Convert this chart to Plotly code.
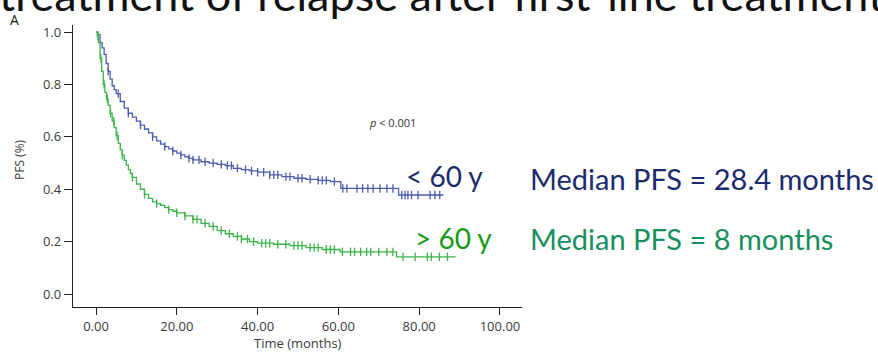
import bisect
import plotly.graph_objects as go

# Kaplan-Meier estimates of progression-free survival by age group
young_t = [0, 0.5, 1, 1.5, 2, 2.5, 3, 3.5, 4, 4.5, 5, 6, 7, 8, 9, 10, 11, 12, 13,
           14, 15, 16, 17, 18, 19, 20, 21, 22, 23, 24, 26, 28, 30, 32, 34, 36, 38,
           40, 43, 46, 49, 52, 55, 58, 60.6, 74.9]
young_s = [1.0, 0.99, 0.96, 0.94, 0.915, 0.88, 0.85, 0.82, 0.795, 0.78, 0.765,
           0.735, 0.71, 0.69, 0.675, 0.66, 0.645, 0.63, 0.615, 0.60, 0.585, 0.572,
           0.563, 0.554, 0.546, 0.538, 0.531, 0.524, 0.518, 0.512, 0.505, 0.50,
           0.495, 0.49, 0.48, 0.475, 0.47, 0.465, 0.455, 0.448, 0.442, 0.438, 0.434,
           0.429, 0.403, 0.378]
young_end = 86.0
young_cens = [3, 5.5, 8, 11, 14, 17, 19, 21, 23, 24, 25.5, 27, 29, 31, 32.5, 33.5,
              35, 37, 38.5, 40, 41.5, 43, 44, 45, 47, 48, 50, 51, 53, 55, 56, 57,
              59, 61.1, 62.1, 64.6, 66, 67.3, 68.6, 70.3, 72, 73.5, 75.7, 76.5,
              77.2, 78.1, 79.7, 82.7, 83.9, 85.1]

old_t = [0, 0.3, 0.6, 1, 1.4, 1.8, 2.2, 2.6, 3, 3.5, 4, 4.5, 5, 5.5, 6, 6.5, 7, 7.5,
         8, 8.5, 9, 10, 11, 12, 13, 14, 15, 16, 17, 18, 19, 20, 22, 24, 26, 28, 30,
         32, 34, 36, 38, 40, 44, 48, 52, 56, 60.4, 74.4]
old_s = [1.0, 0.985, 0.96, 0.90, 0.85, 0.80, 0.77, 0.745, 0.72, 0.69, 0.66, 0.635,
         0.605, 0.575, 0.55, 0.53, 0.51, 0.492, 0.475, 0.46, 0.445, 0.42, 0.40,
         0.38, 0.365, 0.352, 0.345, 0.338, 0.33, 0.322, 0.316, 0.31, 0.298, 0.285,
         0.27, 0.258, 0.242, 0.23, 0.22, 0.21, 0.20, 0.194, 0.19, 0.185, 0.177,
         0.17, 0.161, 0.142]
old_end = 89.0
old_cens = [0.5, 1.2, 2, 2.8, 3.6, 4.4, 5.2, 6.5, 9, 12, 15, 18, 20, 22, 24, 25,
            27, 29, 31, 33, 35, 36, 37.5, 39, 41, 42, 43, 45, 47, 49, 50, 51, 53,
            54, 55, 57, 58, 59, 61, 63, 64, 65.5, 67, 68, 70, 72, 73.5, 76, 79,
            82, 83, 85, 87]

x_ticks = [0, 20, 40, 60, 80, 100]
y_ticks = [0.0, 0.2, 0.4, 0.6, 0.8, 1.0]

BLUE = "#4c5cae"
GREEN = "#3cb44b"
AXIS_TEXT = "#3a3a3a"


def surv_at(times, survs, t):
    i = bisect.bisect_right(times, t) - 1
    return survs[max(i, 0)]


def km_traces(times, survs, end, cens, color):
    xs = list(times) + [end]
    ys = list(survs) + [survs[-1]]
    step = go.Scatter(x=xs, y=ys, mode="lines", line=dict(color=color, width=1.3, shape="hv"),
                      hoverinfo="skip", showlegend=False)
    marks = go.Scatter(x=cens, y=[surv_at(times, survs, c) for c in cens], mode="markers",
                       marker=dict(symbol="line-ns", size=6, line=dict(color=color, width=1.3)),
                       hoverinfo="skip", showlegend=False)
    return [step, marks]


fig = go.Figure()
for tr in km_traces(young_t, young_s, young_end, young_cens, BLUE):
    fig.add_trace(tr)
for tr in km_traces(old_t, old_s, old_end, old_cens, GREEN):
    fig.add_trace(tr)

# plot area in pixels: left 73, right 522, top 25, bottom 307
L, R, T, B = 73, 522, 25, 307


def px(x):
    return (x - L) / (R - L)


def py(y):
    return (B - y) / (B - T)


annotations = [
    dict(text="treatment of relapse after first-line treatment", x=px(-3), y=py(23),
         xanchor="left", yanchor="bottom", font=dict(family="Lato", size=45, color="#111111")),
    dict(text="A", x=px(15), y=py(19), xanchor="center", yanchor="middle",
         font=dict(family="Open Sans", size=14, color="#222222")),
    dict(text="<i>p</i> < 0.001", x=px(392), y=py(122), xanchor="center", yanchor="middle",
         font=dict(family="Open Sans", size=11, color="#333333")),
    dict(text="< 60 y", x=px(404), y=py(176), xanchor="left", yanchor="middle",
         font=dict(family="Lato", size=28, color="#1b2a6e")),
    dict(text="> 60 y", x=px(413), y=py(238), xanchor="left", yanchor="middle",
         font=dict(family="Lato", size=28, color="#169a16")),
    dict(text="Median PFS = 28.4 months", x=px(528), y=py(178), xanchor="left", yanchor="middle",
         font=dict(family="Lato", size=29, color="#1b2a6e")),
    dict(text="Median PFS = 8 months", x=px(528), y=py(238), xanchor="left", yanchor="middle",
         font=dict(family="Lato", size=29, color="#178f5e")),
    dict(text="PFS (%)", x=px(19), y=py(160), xanchor="center", yanchor="middle", textangle=-90,
         font=dict(family="Open Sans", size=12, color=AXIS_TEXT)),
    dict(text="Time (months)", x=px(298), y=py(343), xanchor="center", yanchor="middle",
         font=dict(family="Open Sans", size=13, color=AXIS_TEXT)),
]
for a in annotations:
    a.update(xref="paper", yref="paper", showarrow=False)

fig.update_layout(
    width=878, height=352,
    margin=dict(l=L, r=878 - R, t=T, b=352 - B, pad=0),
    paper_bgcolor="white", plot_bgcolor="white",
    annotations=annotations,
    showlegend=False,
)
fig.update_xaxes(range=[-5.7, 105.45], tickvals=x_ticks, ticktext=[f"{v:.2f}" for v in x_ticks],
                 showline=True, linecolor="#222222", linewidth=1.4, ticks="outside", ticklen=7,
                 tickcolor="#222222", tickwidth=1.3, showgrid=False, zeroline=False,
                 tickfont=dict(family="Open Sans", size=13, color=AXIS_TEXT))
fig.update_yaxes(range=[-0.0496, 1.027], tickvals=y_ticks, ticktext=[f"{v:.1f}" for v in y_ticks],
                 showline=True, linecolor="#222222", linewidth=1.4, ticks="outside", ticklen=8,
                 tickcolor="#222222", tickwidth=1.3, showgrid=False, zeroline=False,
                 tickfont=dict(family="Open Sans", size=13, color=AXIS_TEXT))

fig.write_html("out.html")
